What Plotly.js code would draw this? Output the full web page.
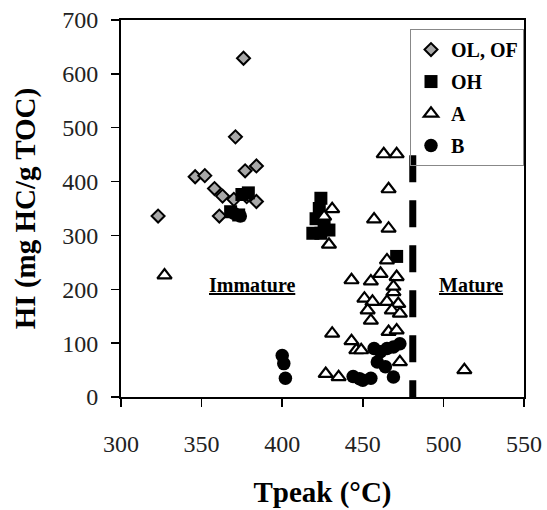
<!DOCTYPE html>
<html>
<head>
<meta charset="utf-8">
<script src="https://cdn.plot.ly/plotly-3.0.1.min.js"></script>
<style>html,body{margin:0;padding:0;background:#fff;}#chart{width:547px;height:510px;}</style>
</head>
<body>
<div id="chart"></div>
<script>
// OL, OF (diamonds)
var olX = [323, 376, 371, 346, 352, 377, 384, 358, 363, 370, 384, 361, 378];
var olY = [336, 629, 483, 409, 411, 420, 429, 387, 373, 367, 363, 336, 372];
// OH (squares)
var ohX = [375, 379, 368, 373, 424, 423, 421, 419, 429, 424, 426, 471];
var ohY = [376, 379, 344, 338, 369, 350, 331, 304, 310, 304, 322, 261];
// A (triangles)
var aX = [327, 463, 471, 466, 431, 426, 429, 457, 466, 465, 461, 443, 455, 471, 469, 451, 456, 453, 455, 465, 469, 472, 468, 473, 431, 443, 446, 449, 466, 471, 473, 427, 435, 513];
var aY = [226, 451, 451, 386, 349, 335, 283, 330, 313, 254, 229, 217, 215, 223, 195, 183, 177, 161, 142, 177, 205, 173, 161, 155, 118, 104, 87, 87, 121, 124, 65, 43, 37, 50];
// B (circles)
var bX = [400, 401, 402, 444, 450, 455, 457, 461, 465, 469, 473, 459, 464, 469, 448, 370, 374];
var bY = [77, 62, 35, 38, 31, 35, 90, 84, 90, 93, 99, 65, 56, 37, 34, 341, 336];
// Maturity boundary
var boundaryX = [481, 481];
var boundaryY = [449, 0];
var xTicks = [300, 350, 400, 450, 500, 550];
var yTicks = [0, 100, 200, 300, 400, 500, 600, 700];

var serif = 'Liberation Serif, Times New Roman, serif';

var traces = [
  {x: boundaryX, y: boundaryY, mode: 'lines', showlegend: false, hoverinfo: 'skip',
   line: {color: '#000', width: 7, dash: '27px,18px'}},
  {x: olX, y: olY, mode: 'markers', name: 'OL, OF', legendgroup: 'g1',
   marker: {symbol: 'diamond', size: 10, color: '#a8a8a8', line: {color: '#000', width: 2}}},
  {x: ohX, y: ohY, mode: 'markers', name: 'OH', legendgroup: 'g2',
   marker: {symbol: 'square', size: 13, color: '#000', line: {color: '#000', width: 0}}},
  {x: aX, y: aY, mode: 'markers', name: 'A', legendgroup: 'g3',
   marker: {symbol: 'triangle-up', size: 12.5, color: '#fff', line: {color: '#000', width: 2.2}}},
  {x: bX, y: bY, mode: 'markers', name: 'B', legendgroup: 'g4',
   marker: {symbol: 'circle', size: 13.5, color: '#000', line: {color: '#000', width: 0}}}
];

var layout = {
  width: 547, height: 510,
  margin: {l: 121, r: 23, t: 20, b: 113},
  paper_bgcolor: '#fff', plot_bgcolor: '#fff',
  font: {family: serif, color: '#111'},
  showlegend: true,
  legend: {x: 1, xanchor: 'right', y: 0.976, yanchor: 'top',
    bgcolor: 'rgba(0,0,0,0)', bordercolor: '#888', borderwidth: 1,
    tracegroupgap: 3,
    font: {family: serif, size: 20, weight: 'bold', color: '#000'}},
  xaxis: {range: [300, 550], tickvals: xTicks, ticktext: xTicks.map(String),
    ticks: 'outside', ticklen: 8, tickwidth: 1.5, tickcolor: '#000',
    showline: true, linecolor: '#000', linewidth: 2, mirror: true,
    showgrid: false, zeroline: false, ticklabelstandoff: 16,
    tickfont: {family: serif, size: 24, color: '#222'},
    title: {text: 'Tpeak (°C)', standoff: 26, font: {family: serif, size: 29, weight: 'bold', color: '#000'}}},
  yaxis: {range: [0, 700], tickvals: yTicks, ticktext: yTicks.map(String),
    ticks: 'outside', ticklen: 8, tickwidth: 1.5, tickcolor: '#000',
    showline: true, linecolor: '#000', linewidth: 2, mirror: true,
    showgrid: false, zeroline: false, ticklabelstandoff: 8,
    tickfont: {family: serif, size: 24, color: '#222'},
    title: {text: 'HI (mg HC/g TOC)', standoff: 18, font: {family: serif, size: 29, weight: 'bold', color: '#000'}}},
  annotations: [
    {x: 381, y: 208, xref: 'x', yref: 'y', text: '<u>Immature</u>', showarrow: false,
     font: {family: serif, size: 20, weight: 'bold', color: '#000'}},
    {x: 517, y: 208, xref: 'x', yref: 'y', text: '<u>Mature</u>', showarrow: false,
     font: {family: serif, size: 20, weight: 'bold', color: '#000'}}
  ]
};

Plotly.newPlot('chart', traces, layout, {staticPlot: true, displayModeBar: false});
</script>
</body>
</html>
